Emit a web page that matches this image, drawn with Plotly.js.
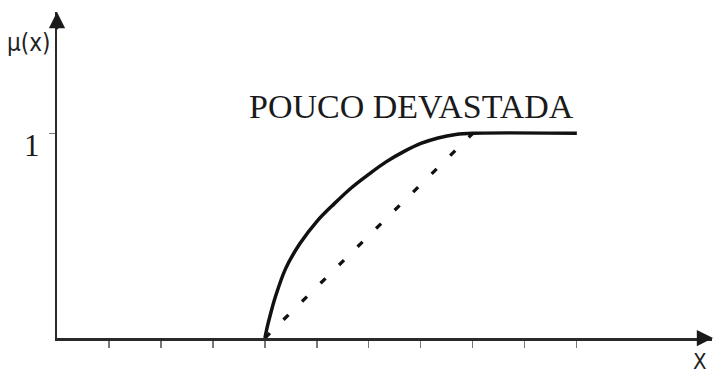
<!DOCTYPE html>
<html>
<head>
<meta charset="utf-8">
<script src="https://cdn.plot.ly/plotly-3.0.1.min.js"></script>
<style>
html,body{margin:0;padding:0;background:#fff;}
#chart{width:714px;height:375px;}
</style>
</head>
<body>
<div id="chart"></div>
<script>
// Data
const curveX = [4, 4.05, 4.1, 4.2, 4.4, 4.67, 5.0, 5.33, 5.67, 6.0, 6.33, 6.67, 7.0, 7.33, 7.67, 8, 10];
const curveY = [0, 0.06, 0.11, 0.2, 0.34, 0.46, 0.57, 0.655, 0.735, 0.80, 0.86, 0.91, 0.95, 0.977, 0.994, 1, 1];
const linearX = [4, 8];
const linearY = [0, 1];
const xTickVals = [1, 2, 3, 4, 5, 6, 7, 8, 9, 10];
const yTickVals = [1];
const yTickText = ["1"];
const titleText = "POUCO DEVASTADA";
const yLabel = "μ(x)";
const xLabel = "X";

const traces = [
  {x: linearX, y: linearY, mode: 'lines', type: 'scatter',
   line: {color: '#111', width: 3.3, dash: '7px,19px'}, hoverinfo: 'skip'},
  {x: curveX, y: curveY, mode: 'lines', type: 'scatter',
   line: {color: '#111', width: 3.5, shape: 'spline', smoothing: 1}, hoverinfo: 'skip'}
];

const layout = {
  width: 714, height: 375,
  margin: {l: 57, r: 2, t: 12, b: 37, pad: 0},
  paper_bgcolor: '#fff', plot_bgcolor: '#fff',
  showlegend: false,
  xaxis: {range: [0, 12.6], showgrid: false, zeroline: false, showline: true,
          linecolor: '#2a2a2a', linewidth: 2.5, ticks: 'outside', tickvals: xTickVals,
          ticklen: 7, tickwidth: 1.2, tickcolor: '#777', showticklabels: false, fixedrange: true},
  yaxis: {range: [0, 1.592], showgrid: false, zeroline: false, showline: true,
          linecolor: '#2a2a2a', linewidth: 2.5, ticks: 'outside', tickvals: yTickVals,
          ticktext: yTickText, ticklen: 6, tickwidth: 1.2, tickcolor: '#777',
          showticklabels: false, fixedrange: true},
  annotations: [
    {x: 12.62, y: 0, ax: 12.3, ay: 0, xref: 'x', yref: 'y', axref: 'x', ayref: 'y',
     showarrow: true, arrowhead: 2, arrowsize: 1.3, arrowwidth: 2.5, arrowcolor: '#1a1a1a', text: ''},
    {x: 0, y: 1.592, ax: 0, ay: 1.5, xref: 'x', yref: 'y', axref: 'x', ayref: 'y',
     showarrow: true, arrowhead: 2, arrowsize: 1.3, arrowwidth: 2.5, arrowcolor: '#1a1a1a', text: ''},
    {x: 6.81, y: 1.13, xref: 'x', yref: 'y', showarrow: false, text: titleText,
     font: {family: 'Liberation Serif, Times New Roman, serif', size: 34, color: '#1a1a1a'},
     xanchor: 'center', yanchor: 'middle'},
    {x: -0.023, y: 0.94, xref: 'paper', yref: 'y', showarrow: false, text: yTickText[0],
     font: {family: 'Liberation Serif, Times New Roman, serif', size: 31, color: '#1a1a1a'},
     xanchor: 'right', yanchor: 'middle'},
    {x: -0.007, y: 1.44, xref: 'paper', yref: 'y', showarrow: false, text: yLabel,
     font: {family: 'DejaVu Sans Condensed, DejaVu Sans, sans-serif', size: 24, color: '#222'},
     xanchor: 'right', yanchor: 'middle'},
    {x: 0.996, y: -0.028, xref: 'paper', yref: 'paper', showarrow: false, text: xLabel,
     font: {family: 'DejaVu Sans Condensed, DejaVu Sans, sans-serif', size: 22, color: '#222'},
     xanchor: 'right', yanchor: 'top'}
  ]
};

Plotly.newPlot('chart', traces, layout, {staticPlot: true, displayModeBar: false});
</script>
</body>
</html>
